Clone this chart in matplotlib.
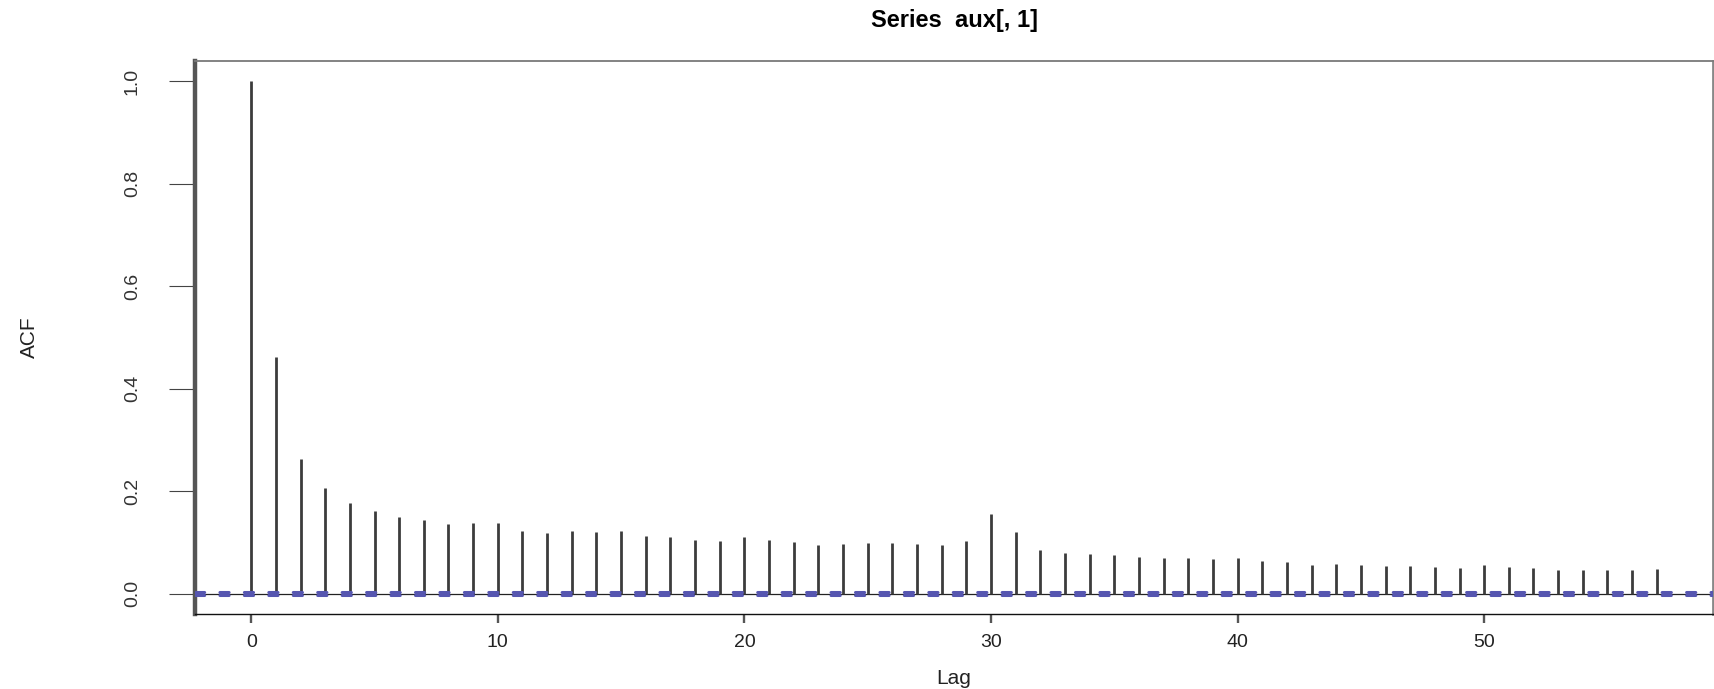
import numpy as np
import matplotlib
matplotlib.use("Agg")
import matplotlib.pyplot as plt

plt.rcParams['font.family'] = ['Liberation Sans', 'DejaVu Sans']

# acf values, lag 0..57
lags = list(range(58))
acf = [1.000, 0.462, 0.262, 0.206, 0.176, 0.162, 0.150, 0.143, 0.135, 0.137,
       0.137, 0.122, 0.119, 0.122, 0.121, 0.122, 0.113, 0.110, 0.104, 0.103,
       0.111, 0.104, 0.100, 0.094, 0.096, 0.098, 0.098, 0.097, 0.094, 0.103,
       0.155, 0.121, 0.085, 0.079, 0.078, 0.076, 0.072, 0.069, 0.070, 0.067,
       0.070, 0.064, 0.061, 0.055, 0.057, 0.056, 0.053, 0.054, 0.051, 0.050,
       0.055, 0.051, 0.049, 0.046, 0.046, 0.046, 0.046, 0.048]
ci = 0.002  # confidence bound, very small (big sample)
yticks = [0.0, 0.2, 0.4, 0.6, 0.8, 1.0]
xticks = [0, 10, 20, 30, 40, 50]

fig = plt.figure(figsize=(17.14, 6.89), dpi=100)
ax = fig.add_axes([195/1714, 75/689, 1518/1714, 553/689])

# zero line + the acf spikes
ax.axhline(0, color='#222222', lw=0.9, zorder=1)
ax.vlines(lags, 0, acf, color='#3c3c3c', lw=2.0, zorder=2)

# blue dashed confidence lines
for c in (ci, -ci):
    ax.axhline(c, color='#5656b0', lw=2.2, linestyle=(0, (3.0, 5.0)),
               dash_capstyle='round', zorder=3)

ax.set_xlim(-2.28, 59.28)
ax.set_ylim(-0.04, 1.04)

ax.set_xticks(xticks)
ax.set_xticklabels([str(x) for x in xticks])
ax.set_yticks(yticks)
ax.set_yticklabels(['%.1f' % y for y in yticks], rotation=90, va='center')

ax.tick_params(axis='x', length=6.5, width=1.7, color='#555555', pad=8,
               labelsize=14, labelcolor='#222222')
ax.tick_params(axis='y', length=19, width=0.8, color='#444444', pad=20,
               labelsize=14, labelcolor='#333333')

ax.spines['left'].set_linewidth(3.2)
ax.spines['left'].set_color('#555555')
ax.spines['top'].set_linewidth(1.3)
ax.spines['top'].set_color('#7a7a7a')
ax.spines['bottom'].set_linewidth(1.0)
ax.spines['bottom'].set_color('#111111')
ax.spines['right'].set_linewidth(2.0)
ax.spines['right'].set_color('#888888')

ax.set_xlabel('Lag', fontsize=15, va='center', color='#222222')
ax.xaxis.set_label_coords(0.5, (614 - 678) / 553)
ax.set_ylabel('ACF', fontsize=15, va='center', color='#222222')
ax.yaxis.set_label_coords((29 - 195) / 1518, 0.5)

fig.text(954/1714, 1 - 20/689, 'Series  aux[, 1]', ha='center', va='center',
         fontsize=17, fontweight='bold')

fig.savefig('out.png', dpi=100)
